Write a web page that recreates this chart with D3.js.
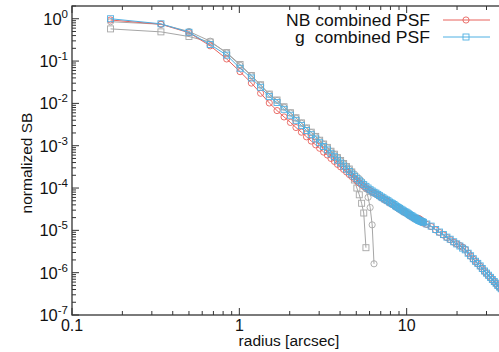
<!DOCTYPE html>
<html>
<head>
<meta charset="utf-8">
<script src="https://cdn.jsdelivr.net/npm/d3@7"></script>
<style>
  body { margin: 0; background: #fff; }
  svg { display: block; font-family: "Liberation Sans", Arial, sans-serif; }
</style>
</head>
<body>
<div id="chart"></div>
<script>
// radius in arcsec for the combined profiles (cores use the first points)
const radiusCombined = [
  0.17, 0.34, 0.50, 0.67, 0.84, 1.01, 1.18, 1.34, 1.51, 1.68,
  1.85, 2.02, 2.18, 2.35, 2.52, 2.69, 2.86, 3.02, 3.19, 3.36,
  3.53, 3.70, 3.86, 4.03, 4.20, 4.37, 4.54, 4.70, 4.87, 5.04,
  5.21, 5.38, 5.54, 5.71, 5.88, 6.05, 6.22, 6.38, 6.55, 6.72,
  6.89, 7.06, 7.22, 7.39, 7.56, 7.73, 7.90, 8.06, 8.23, 8.40,
  8.57, 8.74, 8.90, 9.07, 9.24, 9.41, 9.58, 9.74, 9.91, 10.08,
  10.25, 10.42, 10.58, 10.75, 10.92, 11.09, 11.26, 11.42, 11.59, 11.76,
  11.93, 12.10, 12.26, 12.43, 12.60,
  13.2, 14.0, 14.9, 15.7, 16.6, 17.4, 18.2, 19.1, 19.9, 20.8,
  21.6, 22.4, 23.3, 24.1, 25.0, 25.8, 26.6, 27.5, 28.3, 29.2,
  30.0, 30.8, 31.7, 32.5, 33.4, 34.2, 35.0, 35.9, 36.7, 37.6
];

// log10 of normalized surface brightness
const nbCombinedLog = [
  -0.03, -0.13, -0.33, -0.64, -0.95, -1.25, -1.52, -1.76, -1.99, -2.17,
  -2.32, -2.45, -2.57, -2.68, -2.79, -2.89, -2.98, -3.06, -3.15, -3.22,
  -3.30, -3.37, -3.44, -3.50, -3.56, -3.62, -3.68, -3.73, -3.78, -3.83,
  -3.88, -3.92, -3.96, -3.99, -4.03, -4.06, -4.09, -4.12, -4.14, -4.17,
  -4.20, -4.23, -4.25, -4.28, -4.30, -4.32, -4.35, -4.37, -4.39, -4.41,
  -4.44, -4.46, -4.48, -4.50, -4.52, -4.54, -4.56, -4.58, -4.59, -4.61,
  -4.63, -4.65, -4.67, -4.68, -4.70, -4.72, -4.73, -4.73, -4.72, -4.72,
  -4.73, -4.75, -4.77, -4.80, -4.83,
  -4.86, -4.91, -4.99, -5.05, -5.11, -5.17, -5.22, -5.28, -5.32, -5.36,
  -5.40, -5.45, -5.54, -5.61, -5.68, -5.74, -5.79, -5.85, -5.91, -5.97,
  -6.02, -6.07, -6.12, -6.17, -6.22, -6.26, -6.31, -6.35, -6.39, -6.44
];

const gCombinedLog = [
  0.00, -0.12, -0.32, -0.61, -0.86, -1.17, -1.40, -1.62, -1.84, -1.98,
  -2.14, -2.28, -2.40, -2.52, -2.64, -2.74, -2.84, -2.93, -3.02, -3.10,
  -3.19, -3.26, -3.34, -3.41, -3.48, -3.55, -3.61, -3.67, -3.72, -3.78,
  -3.83, -3.88, -3.92, -3.96, -4.00, -4.04, -4.07, -4.10, -4.12, -4.15,
  -4.18, -4.21, -4.23, -4.26, -4.28, -4.30, -4.33, -4.35, -4.37, -4.39,
  -4.42, -4.44, -4.46, -4.48, -4.50, -4.52, -4.54, -4.56, -4.57, -4.59,
  -4.61, -4.63, -4.65, -4.66, -4.68, -4.70, -4.71, -4.73, -4.74, -4.76,
  -4.77, -4.78, -4.79, -4.80, -4.81,
  -4.85, -4.90, -4.98, -5.04, -5.10, -5.16, -5.21, -5.27, -5.32, -5.37,
  -5.42, -5.46, -5.54, -5.60, -5.67, -5.73, -5.78, -5.84, -5.90, -5.96,
  -6.01, -6.06, -6.11, -6.16, -6.21, -6.25, -6.30, -6.34, -6.38, -6.43
];

// unlabelled grey core profiles
const nbCoreLog = [
  -0.07, -0.13, -0.30, -0.53, -0.81, -1.10, -1.35, -1.57, -1.79, -1.93,
  -2.09, -2.23, -2.35, -2.47, -2.59, -2.69, -2.79, -2.88, -2.97, -3.05,
  -3.14, -3.21, -3.29, -3.36, -3.43, -3.50, -3.56, -3.62, -3.67, -3.73,
  -3.78, -3.84, -3.91, -4.02, -4.22, -4.46, -4.87, -5.79
];

const gCoreLog = [
  -0.24, -0.31, -0.42, -0.55, -0.80, -1.08, -1.34, -1.56, -1.78, -1.92,
  -2.08, -2.22, -2.34, -2.46, -2.58, -2.68, -2.78, -2.87, -2.96, -3.04,
  -3.13, -3.20, -3.28, -3.35, -3.42, -3.49, -3.55, -3.62, -3.81, -4.00,
  -4.16, -4.36, -4.59, -5.41
];

const xTickValues = [0.1, 1, 10];
const xTickLabels = ["0.1", "1", "10"];
const yTickExponents = [0, -1, -2, -3, -4, -5, -6, -7];

const width = 499, height = 352;
const plotLeft = 72, plotTop = 6, plotBottom = 315, plotRight = 574;

const x = d3.scaleLog().domain([0.1, 100]).range([plotLeft, plotRight]);
const y = d3.scaleLog().domain([1e-7, 2]).range([plotBottom, plotTop]);

const svg = d3.select("#chart").append("svg")
  .attr("width", width)
  .attr("height", height);

svg.append("defs").append("clipPath").attr("id", "plot-clip")
  .append("rect")
  .attr("x", plotLeft).attr("y", plotTop)
  .attr("width", plotRight - plotLeft).attr("height", plotBottom - plotTop);

function toPoints(radius, logs) {
  return logs.map((v, i) => ({ r: radius[i], sb: Math.pow(10, v) }));
}

const series = [
  { name: "gcore", data: toPoints(radiusCombined, gCoreLog), color: "#a6a6a6", marker: "square" },
  { name: "nbcore", data: toPoints(radiusCombined, nbCoreLog), color: "#a6a6a6", marker: "circle" },
  { name: "NB combined PSF", data: toPoints(radiusCombined, nbCombinedLog), color: "#e8625c", marker: "circle", labelWidth: 144 },
  { name: "g  combined PSF", data: toPoints(radiusCombined, gCombinedLog), color: "#4fb0e3", marker: "square", labelWidth: 135 }
];

const line = d3.line()
  .x((d) => x(d.r))
  .y((d) => y(d.sb));

const plot = svg.append("g").attr("clip-path", "url(#plot-clip)");

function drawMarker(g, type, color) {
  if (type === "circle") {
    g.append("circle").attr("r", 3.1)
      .attr("fill", "none").attr("stroke", color).attr("stroke-width", 0.9);
  } else {
    g.append("rect").attr("x", -3).attr("y", -3)
      .attr("width", 6).attr("height", 6)
      .attr("fill", "none").attr("stroke", color).attr("stroke-width", 0.9);
  }
}

series.forEach((s) => {
  plot.append("path")
    .datum(s.data)
    .attr("d", line)
    .attr("fill", "none")
    .attr("stroke", s.color)
    .attr("stroke-width", 1);

  plot.selectAll(null)
    .data(s.data)
    .enter()
    .append("g")
    .attr("transform", (d) => `translate(${x(d.r)},${y(d.sb)})`)
    .each(function () {
      drawMarker(d3.select(this), s.marker, s.color);
    });
});

// frame and ticks
const axisColor = "#333";
const frame = svg.append("g");

frame.append("rect")
  .attr("x", plotLeft).attr("y", plotTop)
  .attr("width", plotRight - plotLeft).attr("height", plotBottom - plotTop)
  .attr("fill", "none").attr("stroke", axisColor).attr("stroke-width", 1.3);

// x ticks (major + minor, mirrored on top)
const xTicks = [];
for (let e = -1; e <= 1; e++) {
  for (let m = 1; m <= 9; m++) xTicks.push({ v: m * Math.pow(10, e), major: m === 1 });
}
xTicks.forEach((t) => {
  const px = x(t.v);
  const len = t.major ? 7 : 4;
  frame.append("line").attr("x1", px).attr("x2", px)
    .attr("y1", plotBottom).attr("y2", plotBottom - len)
    .attr("stroke", axisColor).attr("stroke-width", 1);
  frame.append("line").attr("x1", px).attr("x2", px)
    .attr("y1", plotTop).attr("y2", plotTop + len)
    .attr("stroke", axisColor).attr("stroke-width", 1);
});

// y ticks
const yTicks = [];
for (let e = -7; e <= 0; e++) {
  for (let m = 1; m <= 9; m++) {
    const v = m * Math.pow(10, e);
    if (v <= 2) yTicks.push({ v: v, major: m === 1 });
  }
}
yTicks.forEach((t) => {
  const py = y(t.v);
  const len = t.major ? 7 : 4;
  frame.append("line").attr("x1", plotLeft).attr("x2", plotLeft + len)
    .attr("y1", py).attr("y2", py)
    .attr("stroke", axisColor).attr("stroke-width", 1);
});

// tick labels
xTickValues.forEach((v, i) => {
  svg.append("text")
    .attr("x", x(v)).attr("y", 331)
    .attr("text-anchor", "middle")
    .attr("font-size", 16)
    .attr("fill", "#111")
    .text(xTickLabels[i]);
});

yTickExponents.forEach((e) => {
  const t = svg.append("text")
    .attr("x", 68).attr("y", y(Math.pow(10, e)) + 6)
    .attr("text-anchor", "end")
    .attr("font-size", 16.5)
    .attr("fill", "#111");
  t.append("tspan").text("10");
  t.append("tspan").attr("dy", -7).attr("font-size", 11.5).text(String(e));
});

// axis titles
svg.append("text")
  .attr("x", 289).attr("y", 346)
  .attr("text-anchor", "middle")
  .attr("font-size", 15.5)
  .attr("fill", "#111")
  .text("radius [arcsec]");

svg.append("text")
  .attr("transform", "translate(32,163) rotate(-90)")
  .attr("text-anchor", "middle")
  .attr("font-size", 15.5)
  .attr("fill", "#111")
  .text("normalized SB");

// legend: labels squeezed horizontally to the width seen in the picture
const legendRows = series.slice(2);
legendRows.forEach((s, i) => {
  const ly = 20 + i * 17;
  const label = svg.append("text")
    .attr("text-anchor", "end")
    .attr("font-size", 16.5)
    .attr("fill", "#111")
    .style("white-space", "pre")
    .text(s.name);
  const natural = label.node().getComputedTextLength();
  const sx = natural > 0 ? s.labelWidth / natural : 1;
  label.attr("transform", `translate(430,${ly + 6}) scale(${sx},1)`);

  svg.append("line")
    .attr("x1", 443).attr("x2", 490)
    .attr("y1", ly).attr("y2", ly)
    .attr("stroke", s.color).attr("stroke-width", 1);
  const mg = svg.append("g").attr("transform", `translate(466,${ly})`);
  drawMarker(mg, s.marker, s.color);
});
</script>
</body>
</html>
